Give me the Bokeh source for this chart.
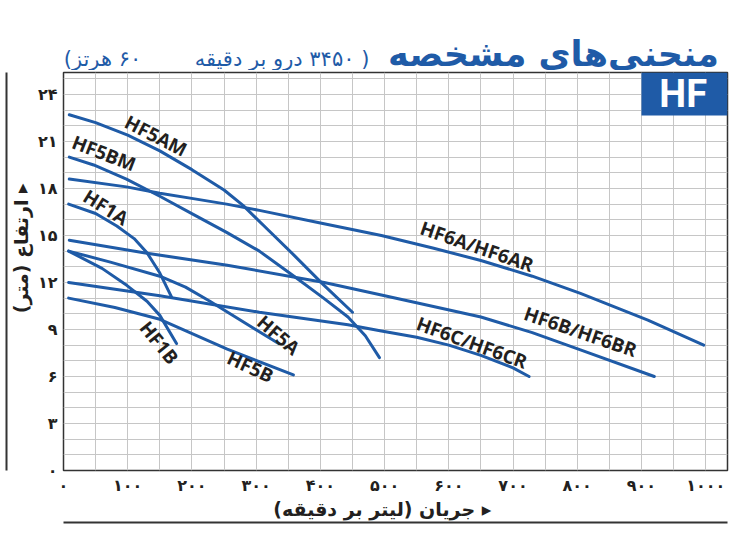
from bokeh.plotting import figure
from bokeh.layouts import column
from bokeh.models import (Range1d, LinearAxis, FixedTicker, Label,
                          BoxAnnotation, ColumnDataSource)
from bokeh.core.properties import value
from bokeh.embed import file_html
from bokeh.resources import INLINE

BLUE = "#1f5ba7"
INK = "#231f20"

# pump curves: flow (L/min) vs head (m)
hf5am_q = [9, 50, 100, 150, 200, 250, 280, 320, 360, 405, 450]
hf5am_h = [22.7, 22.2, 21.4, 20.4, 19.2, 17.9, 16.9, 15.3, 13.7, 11.85, 10.1]

hf5bm_q = [9, 47, 98, 150, 202, 254, 305, 359, 405, 443, 470, 492]
hf5bm_h = [20.0, 19.5, 18.6, 17.5, 16.35, 15.2, 14.0, 12.4, 11.0, 9.8, 8.6, 7.2]

hf6a_q = [9, 98, 150, 202, 254, 305, 400, 495, 575, 650, 730, 805, 910, 997]
hf6a_h = [18.6, 18.1, 17.7, 17.35, 17.0, 16.6, 15.8, 15.0, 14.2, 13.4, 12.4, 11.3, 9.6, 8.0]

hf6b_q = [9, 125, 255, 406, 495, 650, 730, 805, 920]
hf6b_h = [14.7, 13.9, 13.1, 12.0, 11.2, 9.8, 8.8, 7.7, 6.0]

hf6c_q = [8, 150, 305, 443, 495, 550, 600, 650, 700, 725]
hf6c_h = [12.0, 11.15, 10.1, 9.3, 8.9, 8.5, 8.0, 7.35, 6.55, 6.0]

hf1a_q = [8, 50, 83, 110, 130, 150, 168]
hf1a_h = [17.0, 16.4, 15.6, 14.8, 13.9, 12.6, 11.1]

hf1b_q = [8, 60, 99, 130, 150, 176]
hf1b_h = [14.0, 12.9, 11.8, 10.8, 9.9, 8.1]

hf5a_q = [8, 73, 150, 190, 228, 335]
hf5a_h = [14.0, 13.3, 12.4, 11.7, 10.8, 8.1]

hf5b_q = [8, 80, 150, 255, 358]
hf5b_h = [11.0, 10.4, 9.65, 7.75, 6.1]

# curve names and where they are written
names = ["HF5AM", "HF5BM", "HF1A", "HF1B", "HF5A", "HF5B",
         "HF6A/HF6AR", "HF6B/HF6BR", "HF6C/HF6CR"]
name_q = [144, 63, 66, 149, 335, 291, 644, 805, 636]
name_h = [21.36, 20.25, 16.8, 8.16, 8.64, 6.62, 14.3, 8.86, 8.16]
name_angle = [-27, -21, -32, -51, -41, -25, -19, -19, -20]

x_ticks = [0, 100, 200, 300, 400, 500, 600, 700, 800, 900, 1000]
x_tick_labels = ["۰", "۱۰۰", "۲۰۰", "۳۰۰", "۴۰۰", "۵۰۰", "۶۰۰", "۷۰۰", "۸۰۰", "۹۰۰", "۱۰۰۰"]
y_ticks = [0, 3, 6, 9, 12, 15, 18, 21, 24]
y_tick_labels = ["۰", "۳", "۶", "۹", "۱۲", "۱۵", "۱۸", "۲۱", "۲۴"]

title_txt = "منحنی‌های مشخصه"
subtitle_txt = "\u202b( ۳۴۵۰ درو بر دقیقه" + "\u00a0" * 7 + " ۶۰ هرتز)\u202c"
xlabel_txt = "جریان (لیتر بر دقیقه)\u200f ▸" + "\u00a0" * 4
ylabel_txt = "\u00a0" * 7 + "ارتفاع (متر)\u200f ▸"

fa_font = "DejaVu Sans"
W = 742
HEAD_H = 70
FRAME_L, FRAME_R = 63, 727   # the column lines the header frame up with the chart frame

# header strip with the two headings; x in page pixels
head = figure(width=W, height=HEAD_H, output_backend="svg", toolbar_location=None,
              title=None, x_range=Range1d(FRAME_L, FRAME_R), y_range=Range1d(0, HEAD_H),
              x_axis_location=None, y_axis_location=None,
              min_border_left=FRAME_L, min_border_right=W - FRAME_R,
              min_border_top=0, min_border_bottom=0, outline_line_color=None)
head.grid.visible = False
head.text(x=[553], y=[17], text=[title_txt], text_font=value(fa_font),
          text_font_style="bold", text_font_size="35px", text_color=BLUE,
          text_align="center", text_baseline="alphabetic")
head.text(x=[216], y=[12], text=[subtitle_txt], text_font=value(fa_font),
          text_font_size="21px", text_color=BLUE,
          text_align="center", text_baseline="alphabetic")

p = figure(width=W, height=460, output_backend="svg", toolbar_location=None,
           x_range=Range1d(0, 1034), y_range=Range1d(0, 25.4),
           min_border_left=FRAME_L, min_border_right=W - FRAME_R, min_border_top=2,
           min_border_bottom=60)
p.background_fill_color = "white"
p.outline_line_color = "#333333"
p.outline_line_width = 1.5

# grid: 50 L/min by 1 m
p.xgrid.ticker = FixedTicker(ticks=list(range(0, 1001, 50)))
p.ygrid.ticker = FixedTicker(ticks=list(range(0, 26)))
p.grid.grid_line_color = "#c6c6c6"
p.grid.grid_line_width = 1

p.xaxis.ticker = FixedTicker(ticks=x_ticks)
p.xaxis.major_label_overrides = dict(zip(x_ticks, x_tick_labels))
p.yaxis.ticker = FixedTicker(ticks=y_ticks)
p.yaxis.major_label_overrides = dict(zip(y_ticks, y_tick_labels))
for ax in (p.xaxis, p.yaxis):
    ax.axis_line_color = None
    ax.major_tick_line_color = None
    ax.minor_tick_line_color = None
    ax.major_tick_out = 0
    ax.major_label_text_font = fa_font
    ax.major_label_text_font_style = "bold"
    ax.major_label_text_font_size = "16px"
    ax.major_label_text_color = INK
    ax.axis_label_text_font = fa_font
    ax.axis_label_text_font_style = "bold"
    ax.axis_label_text_color = INK
p.xaxis.major_label_standoff = 5
p.xaxis.axis_label_standoff = 0
p.xaxis.axis_label_text_font_size = "19px"
p.yaxis.major_label_standoff = 6
p.yaxis.axis_label_standoff = 3
p.yaxis.axis_label_text_font_size = "19px"
p.xaxis.axis_label = xlabel_txt
p.yaxis.axis_label = ylabel_txt
p.yaxis.major_label_orientation = "horizontal"

# plain rules outside the frame
for side in ("left", "below"):
    rule = LinearAxis(ticker=FixedTicker(ticks=[]), axis_line_color="#333333",
                      axis_line_width=2, major_tick_line_color=None,
                      minor_tick_line_color=None, major_tick_out=0,
                      major_label_standoff=0, axis_label_standoff=0,
                      major_label_text_font_size="0px")
    p.add_layout(rule, side)

for q, h in [(hf5am_q, hf5am_h), (hf5bm_q, hf5bm_h), (hf6a_q, hf6a_h),
             (hf6b_q, hf6b_h), (hf6c_q, hf6c_h), (hf1a_q, hf1a_h),
             (hf1b_q, hf1b_h), (hf5a_q, hf5a_h), (hf5b_q, hf5b_h)]:
    p.line(q, h, line_color=BLUE, line_width=3, line_join="round", line_cap="round")

src = ColumnDataSource(dict(x=name_q, y=name_h, t=names, a=name_angle))
p.text(x="x", y="y", text="t", angle="a", angle_units="deg", source=src,
       text_font=value("Open Sans"), text_font_style="bold",
       text_font_size="19px", text_color=INK,
       text_align="center", text_baseline="middle")

# HF badge
p.add_layout(BoxAnnotation(left=900, bottom=22.65, fill_color=BLUE,
                           fill_alpha=1, line_color=None))
p.add_layout(Label(x=965, y=24.0, text="HF", text_font="Roboto",
                   text_font_style="bold", text_font_size="38px",
                   text_color="white", text_align="center",
                   text_baseline="middle"))

layout = column(head, p, spacing=0)
open("out.html", "w").write(file_html(layout, INLINE))
